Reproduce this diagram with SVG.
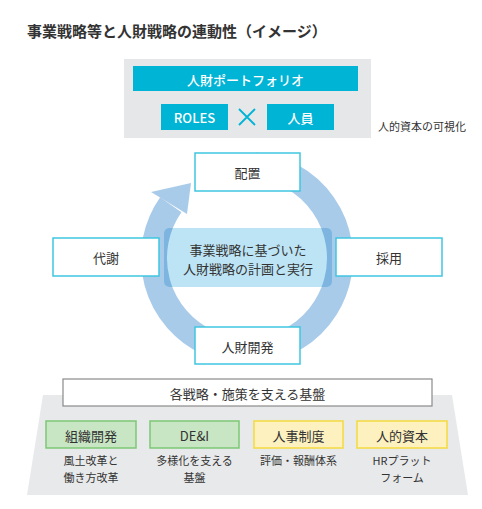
<svg xmlns="http://www.w3.org/2000/svg" width="482" height="509" viewBox="0 0 482 509">
<style>
text{font-family:"Noto Sans CJK JP","Noto Sans",sans-serif;fill:#333;text-anchor:middle;dominant-baseline:central}
.w{fill:#fff;font-weight:500}
.t13{font-size:13px}
.t11{font-size:11px}
.cy{fill:#00b4d6}
.node{fill:#fff;stroke:#3fc6e0;stroke-width:1.5}
.green{fill:#c8e6c3;stroke:#7cc876;stroke-width:1.5}
.yellow{fill:#fdf1c0;stroke:#f3da3e;stroke-width:1.5}
</style>
<defs>
<clipPath id="cbox"><rect x="164" y="228" width="168" height="59" rx="5"/></clipPath>
</defs>
<rect width="482" height="509" fill="#fff"/>
<text x="27" y="30" style="font-size:15px;font-weight:700;text-anchor:start;fill:#333">事業戦略等と人財戦略の連動性（イメージ）</text>

<g id="portfolio">
<rect x="124" y="59" width="247" height="79" fill="#e6e7e9"/>
<rect class="cy" x="133" y="66" width="225" height="25"/>
<text class="w t13" x="245.5" y="79">人財ポートフォリオ</text>
<rect class="cy" x="161" y="104" width="67" height="26"/>
<text class="w t13" x="194.5" y="117">ROLES</text>
<path d="M239 109 L255 125 M255 109 L239 125" stroke="#00b4d6" stroke-width="1.8" fill="none"/>
<rect class="cy" x="267" y="104" width="67" height="26"/>
<text class="w t13" x="300.5" y="117">人員</text>
</g>
<text class="t11" x="422" y="126">人的資本の可視化</text>

<g id="connectors">
<path d="M255.1 165.4 A93 93 0 1 1 170.8 204.7" fill="none" stroke="#a9cbea" stroke-width="26"/>
<polygon points="151,192 191,183 187,214" fill="#a9cbea"/>
</g>

<g id="center">
<rect x="164" y="228" width="168" height="59" rx="5" fill="#bde4f4"/>
<path clip-path="url(#cbox)" d="M255.1 165.4 A93 93 0 1 1 170.8 204.7" fill="none" stroke="#7db5e0" stroke-width="26"/>
<text class="t13" x="248" y="249">事業戦略に基づいた</text>
<text class="t13" x="248" y="268">人財戦略の計画と実行</text>
</g>

<g id="haichi"><rect class="node" x="195" y="153" width="105" height="38"/><text class="t13" x="247.5" y="172">配置</text></g>
<g id="taisha"><rect class="node" x="53" y="238" width="106" height="38"/><text class="t13" x="106" y="257">代謝</text></g>
<g id="saiyo"><rect class="node" x="336" y="238" width="106" height="38"/><text class="t13" x="389" y="257">採用</text></g>
<g id="kaihatsu"><rect class="node" x="195" y="327" width="105" height="37"/><text class="t13" x="247.5" y="346">人財開発</text></g>

<g id="foundation">
<polygon points="43,395 452,395 468,495 27,495" fill="#e8e9ea"/>
<rect x="63" y="379" width="369" height="27" fill="#fff" stroke="#8a8a8a" stroke-width="1.2"/>
<text class="t13" x="247.5" y="393">各戦略・施策を支える基盤</text>
</g>
<g id="soshiki"><rect class="green" x="46" y="421" width="90" height="27"/><text class="t13" x="91" y="435">組織開発</text>
<text class="t11" x="91" y="460">風土改革と</text><text class="t11" x="91" y="477">働き方改革</text></g>
<g id="dei"><rect class="green" x="150" y="421" width="89" height="27"/><text class="t13" x="194.5" y="435">DE&amp;I</text>
<text class="t11" x="194.5" y="460">多様化を支える</text><text class="t11" x="194.5" y="477">基盤</text></g>
<g id="seido"><rect class="yellow" x="254" y="421" width="89" height="27"/><text class="t13" x="298.5" y="435">人事制度</text>
<text class="t11" x="298.5" y="460">評価・報酬体系</text></g>
<g id="shihon"><rect class="yellow" x="357" y="421" width="90" height="27"/><text class="t13" x="402" y="435">人的資本</text>
<text class="t11" x="402" y="460">HRプラット</text><text class="t11" x="402" y="477">フォーム</text></g>
</svg>
